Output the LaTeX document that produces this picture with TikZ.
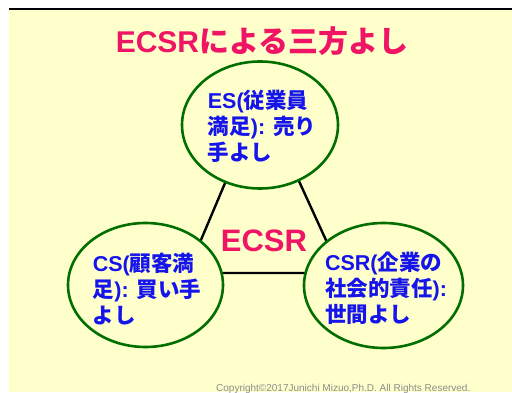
\documentclass[tikz,border=0pt]{standalone}
\usepackage{fontspec}
\usetikzlibrary{shapes.geometric}
\setmainfont{Noto Sans CJK JP}
\newfontfamily\lat{Liberation Sans}
\newfontfamily\cjk{Noto Sans CJK JP}
\definecolor{bgyellow}{RGB}{255,255,204}
\definecolor{ringgreen}{RGB}{0,110,0}
\definecolor{titlered}{RGB}{240,20,100}
\definecolor{txtblue}{RGB}{20,20,235}
\definecolor{copygray}{RGB}{140,140,140}
\tikzset{
  ring/.style={draw=ringgreen, line width=2.6pt, fill=bgyellow, ellipse, inner sep=0pt},
  tri/.style={draw=black, line width=2.4pt},
  circtext/.style={text=txtblue, align=left, font=\fontsize{21.5}{26}\selectfont\bfseries, inner sep=0pt},
}
\begin{document}
\begin{tikzpicture}[x=1pt,y=-1pt]
\useasboundingbox (0,0) rectangle (512,393);
\fill[bgyellow] (9,9) rectangle (512,392);
\draw[black, line width=1.6pt] (9,9) -- (512,9);
% title
\node[text=titlered, font=\fontsize{30}{34}\selectfont\bfseries, inner sep=0pt] (title) at (262,41)
  {{\lat\bfseries ECSR}{\cjk\bfseries による三方よし}};
% triangle
\coordinate (apex) at (261,98);
\coordinate (bl) at (187,273);
\coordinate (br) at (341,273);
\draw[tri] (apex) -- (bl) -- (br) -- cycle;
% circles
\node[ring, minimum width=156pt, minimum height=127pt] (es) at (260,125) {};
\node[ring, minimum width=155pt, minimum height=124pt] (cs) at (145.5,285) {};
\node[ring, minimum width=159pt, minimum height=125pt] (csr) at (383.5,285.5) {};
% center label
\node[text=titlered, font=\fontsize{31}{36}\selectfont\lat\bfseries, inner sep=0pt] (ecsr) at (264,241) {ECSR};
% circle texts
\node[circtext] (estext) at (262,126)
  {{\lat\bfseries ES(}従業員\\満足{\lat\bfseries ): }売り\\手よし};
\node[circtext] (cstext) at (147,289)
  {{\lat\bfseries CS(}顧客満\\足{\lat\bfseries ): }買い手\\よし};
\node[circtext] (csrtext) at (386,288)
  {{\lat\bfseries CSR(}企業の\\社会的責任{\lat\bfseries ):}\\世間よし};
% copyright
\node[text=copygray, font=\fontsize{10}{11}\selectfont\lat, inner sep=0pt, anchor=base west] (copy) at (216,391)
  {Copyright©2017Junichi Mizuo,Ph.D. All Rights Reserved.};
\end{tikzpicture}
\end{document}
